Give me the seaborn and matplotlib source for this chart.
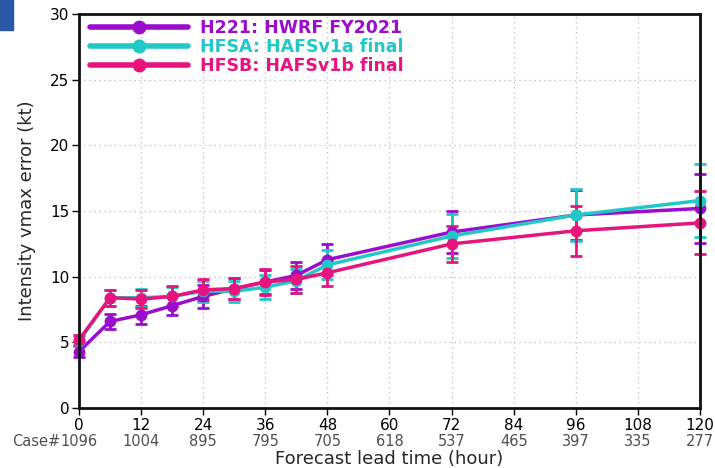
import matplotlib
matplotlib.use("Agg")
import matplotlib.pyplot as plt
import seaborn as sns
import pandas as pd
from matplotlib.patches import Rectangle
from matplotlib.lines import Line2D

hours = [0, 6, 12, 18, 24, 30, 36, 42, 48, 72, 96, 120]
h221 = [4.3, 6.6, 7.1, 7.8, 8.5, 9.1, 9.6, 10.1, 11.3, 13.4, 14.7, 15.2]
h221_err = [0.4, 0.6, 0.7, 0.7, 0.9, 0.8, 0.9, 1.0, 1.2, 1.6, 1.9, 2.6]
hfsa = [5.1, 8.4, 8.4, 8.5, 8.9, 8.9, 9.2, 9.7, 10.9, 13.1, 14.7, 15.8]
hfsa_err = [0.4, 0.6, 0.7, 0.7, 0.8, 0.8, 0.9, 0.9, 1.1, 1.7, 2.0, 2.75]
hfsb = [5.2, 8.4, 8.3, 8.5, 9.0, 9.1, 9.6, 9.8, 10.3, 12.5, 13.5, 14.1]
hfsb_err = [0.4, 0.6, 0.7, 0.8, 0.8, 0.8, 1.0, 1.0, 1.0, 1.4, 1.9, 2.4]
labels = ["H221: HWRF FY2021", "HFSA: HAFSv1a final", "HFSB: HAFSv1b final"]
colors = ["#9A0DCC", "#22C7C7", "#E8147E"]
tick_hours = [0, 12, 24, 36, 48, 60, 72, 84, 96, 108, 120]
cases = ["1096", "1004", "895", "795", "705", "618", "537", "465", "397", "335", "277"]
case_prefix = "Case#"

sns.set_style("white")
plt.rcParams['font.family'] = ['DejaVu Sans']

fig = plt.figure(figsize=(7.15, 4.68), dpi=100)
ax = fig.add_axes([0.1105, 0.128, 0.979 - 0.1105, 0.842])

series = [(h221, h221_err), (hfsa, hfsa_err), (hfsb, hfsb_err)]
rows = []
for lab, (vals, errs) in zip(labels, series):
    for h, v, e in zip(hours, vals, errs):
        rows.append({"hour": h, "err": v, "se": e, "model": lab})
df = pd.DataFrame(rows)

for i, lab in enumerate(labels):
    d = df[df.model == lab]
    cont = ax.errorbar(d.hour, d.err, yerr=d.se, fmt='none', ecolor=colors[i],
                       elinewidth=2, capsize=4, capthick=2, zorder=2 + i)
    for art in cont.lines[1]:
        art.set_clip_on(False)
    for art in cont.lines[2]:
        art.set_clip_on(False)

sns.lineplot(data=df, x="hour", y="err", hue="model", palette=colors,
             marker="o", markersize=8.5, markeredgewidth=0, linewidth=2.5,
             ax=ax, legend=False, zorder=5)
for ln in ax.lines:
    ln.set_clip_on(False)

ax.set_xlim(0, 120)
ax.set_ylim(0, 30)
ax.set_xticks(tick_hours)
ax.set_yticks([0, 5, 10, 15, 20, 25, 30])
ax.tick_params(axis='both', direction='out', length=5, width=1, labelsize=11,
               left=True, bottom=True, colors='black', pad=2)
ax.grid(True, linestyle=(0, (1, 3)), color='#b8b8b8', linewidth=0.9)
for s in ax.spines.values():
    s.set_linewidth(2)
    s.set_color('#111111')
    s.set_zorder(10)

ax.set_ylabel("Intensity vmax error (kt)", fontsize=13, labelpad=10)
ax.set_xlabel("Forecast lead time (hour)", fontsize=13)
ax.xaxis.set_label_coords(0.5, -0.106)

for h, c in zip(tick_hours, cases):
    t = ax.annotate(c, xy=(h, 0), xycoords=('data', 'axes fraction'),
                    xytext=(0, -24), textcoords='offset points',
                    ha='center', va='center', fontsize=10.5, color='#505050')
    if h == tick_hours[0]:
        ax.annotate(case_prefix, xy=(0, 0.5), xycoords=t, ha='right', va='center',
                    fontsize=10.5, color='#505050')

handles = [Line2D([0], [0], color=c, lw=4, marker='o', markersize=9) for c in colors]
leg = ax.legend(handles, labels, loc='upper left', frameon=False,
                bbox_to_anchor=(0.01, 1.0),
                handlelength=5.6, handletextpad=0.7, labelspacing=0.05,
                borderaxespad=0.0, borderpad=0.3,
                prop={'size': 12.5, 'weight': 'bold'})
for t, c in zip(leg.get_texts(), colors):
    t.set_color(c)

fig.patches.append(Rectangle((0, 0.935), 0.018, 0.065, transform=fig.transFigure,
                             color='#2B57A6', zorder=0))

fig.savefig("out.png", dpi=100)
